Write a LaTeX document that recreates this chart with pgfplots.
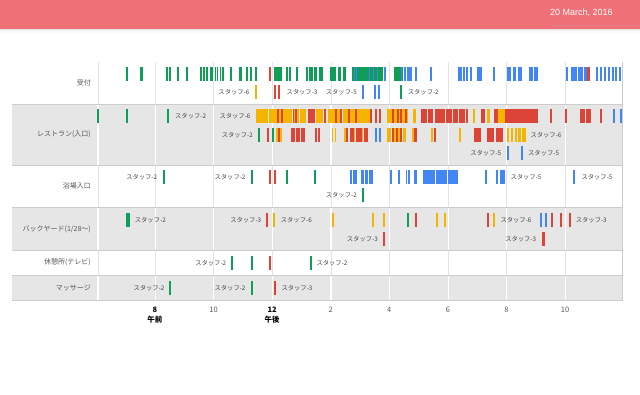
\documentclass[border=0pt]{standalone}
\usepackage{fontspec}
\setmainfont{Noto Sans CJK JP}
\newfontfamily\datefont{Liberation Sans}
\usepackage{pgfplots}
\usepackage{pgfplotstable}
\pgfplotsset{compat=1.18}
\definecolor{hdr}{RGB}{240,112,119}
\definecolor{hdrline}{RGB}{222,130,134}
\definecolor{rowgray}{RGB}{230,230,230}
\definecolor{gridlt}{RGB}{228,228,228}
\definecolor{sepc}{RGB}{204,204,204}
\definecolor{labc}{RGB}{68,68,68}
\definecolor{rowlabc}{RGB}{85,85,85}
\definecolor{tickc}{RGB}{90,90,90}
\definecolor{cG}{HTML}{0F9D58}
\definecolor{cY}{HTML}{F4B400}
\definecolor{cR}{HTML}{DB4437}
\definecolor{cB}{HTML}{4285F4}

% ---------- data: start hour, end hour, lane position ----------
\pgfplotstableread{
s e y
7.00 7.07 73.7
7.488 7.590 73.7
8.39 8.45 73.7
8.47 8.53 73.7
8.765 8.835 73.7
9.05 9.12 73.7
9.535 9.605 73.7
9.64 9.71 73.7
9.73 9.80 73.7
9.878 9.980 73.7
10.038 10.09 73.7
10.11 10.151 73.7
10.209 10.27 73.7
10.29 10.356 73.7
10.575 10.645 73.7
10.868 10.984 73.7
11.10 11.165 73.7
11.235 11.30 73.7
11.43 11.495 73.7
12.052 12.350 73.7
12.475 12.54 73.7
12.565 12.635 73.7
12.815 12.88 73.7
13.17 13.235 73.7
13.25 13.315 73.7
13.34 13.41 73.7
13.44 13.52 73.7
13.59 13.655 73.7
13.67 13.735 73.7
13.988 14.193 73.7
14.248 14.364 73.7
14.418 14.535 73.7
14.739 15.784 73.7
16.149 16.467 73.7
16.355 16.425 92
6.035 6.10 116.3
7.00 7.07 116.3
8.42 8.49 116.3
11.515 11.585 134.7
11.995 12.065 134.7
8.26 8.33 177.3
11.28 11.345 177.3
12.47 12.54 177.3
13.44 13.51 177.3
15.065 15.135 195.3
7.024 7.136 220.3
16.60 16.67 220.3
10.61 10.68 262.8
11.29 11.36 262.8
13.28 13.35 262.8
8.49 8.56 287.7
11.28 11.345 287.7
}\tG

\pgfplotstableread{
s e y
11.43 11.495 92
11.438 11.848 116.3
11.882 12.330 116.3
12.360 12.667 116.3
12.718 12.906 116.3
12.940 13.169 116.3
13.510 13.736 116.3
13.906 14.169 116.3
14.221 14.340 116.3
14.408 14.613 116.3
14.647 14.852 116.3
14.903 15.330 116.3
15.921 16.115 116.3
16.150 16.286 116.3
16.320 16.389 116.3
16.440 16.559 116.3
16.593 16.638 116.3
16.809 16.924 116.3
18.857 18.939 116.3
19.348 19.427 116.3
19.711 19.939 116.3
12.121 12.350 134.7
14.04 14.09 134.7
14.13 14.18 134.7
14.445 14.51 134.7
14.80 14.84 134.7
15.075 15.11 134.7
15.921 16.05 134.7
16.17 16.25 134.7
16.29 16.36 134.7
16.46 16.583 134.7
16.78 16.84 134.7
16.90 16.96 134.7
17.44 17.50 134.7
18.395 18.46 134.7
20.007 20.093 134.7
20.144 20.229 134.7
20.281 20.349 134.7
20.400 20.486 134.7
20.537 20.680 134.7
12.03 12.095 220.3
14.045 14.11 220.3
15.398 15.484 220.3
15.785 15.855 220.3
17.595 17.66 220.3
17.857 17.943 220.3
19.54 19.61 220.3
}\tY

\pgfplotstableread{
s e y
11.88 11.95 73.7
22.763 22.865 73.7
12.075 12.145 92
12.20 12.27 92
12.155 12.22 116.3
12.29 12.36 116.3
12.70 12.76 116.3
12.79 12.85 116.3
13.224 13.452 116.3
13.76 13.83 116.3
14.16 14.23 116.3
14.33 14.40 116.3
14.59 14.66 116.3
14.84 14.91 116.3
15.355 15.42 116.3
15.50 15.57 116.3
15.64 15.705 116.3
16.09 16.16 116.3
16.26 16.33 116.3
16.38 16.445 116.3
16.55 16.615 116.3
17.095 17.29 116.3
17.32 17.491 116.3
17.573 17.891 116.3
17.949 18.13 116.3
18.16 18.35 116.3
18.38 18.574 116.3
18.608 18.686 116.3
19.120 19.256 116.3
19.574 19.711 116.3
19.939 21.076 116.3
21.475 21.545 116.3
21.99 22.055 116.3
22.500 22.670 116.3
22.728 22.875 116.3
23.205 23.275 116.3
11.825 11.89 134.7
12.19 12.255 134.7
12.657 12.770 134.7
12.821 12.940 134.7
12.974 13.111 134.7
13.452 13.53 134.7
13.57 13.647 134.7
14.525 14.595 134.7
14.647 14.784 134.7
14.852 15.057 134.7
15.125 15.272 134.7
16.08 16.15 134.7
16.22 16.29 134.7
16.37 16.44 134.7
16.86 16.93 134.7
17.54 17.61 134.7
18.891 19.120 134.7
19.348 19.574 134.7
19.656 19.881 134.7
11.905 11.975 177.3
12.05 12.12 177.3
11.78 11.85 220.3
16.89 16.96 220.3
19.335 19.405 220.3
21.52 21.59 220.3
21.84 21.91 220.3
22.125 22.19 220.3
15.785 15.855 238.7
21.203 21.305 238.7
11.905 11.975 262.8
12.06 12.13 287.7
}\tR

\pgfplotstableread{
s e y
14.80 14.84 73.7
14.87 14.91 73.7
15.30 15.35 73.7
15.45 15.49 73.7
15.585 15.625 73.7
15.81 15.875 73.7
16.40 16.45 73.7
16.49 16.56 73.7
16.60 16.70 73.7
16.72 16.79 73.7
16.865 16.935 73.7
17.40 17.47 73.7
18.345 18.47 73.7
18.50 18.60 73.7
18.63 18.686 73.7
18.745 18.81 73.7
19.007 19.164 73.7
19.54 19.61 73.7
20.031 20.17 73.7
20.22 20.33 73.7
20.41 20.530 73.7
20.759 20.90 73.7
20.94 21.076 73.7
22.03 22.10 73.7
22.216 22.40 73.7
22.44 22.60 73.7
22.64 22.763 73.7
23.07 23.14 73.7
23.205 23.275 73.7
23.32 23.39 73.7
23.455 23.525 73.7
23.60 23.67 73.7
23.72 23.79 73.7
23.855 23.925 73.7
15.065 15.135 92
15.47 15.55 92
15.60 15.69 92
23.635 23.705 116.3
23.89 23.96 116.3
15.50 15.57 134.7
15.64 15.705 134.7
20.015 20.085 152.7
20.485 20.555 152.7
14.645 14.715 177.3
14.75 14.82 177.3
14.84 14.91 177.3
15.047 15.125 177.3
15.159 15.262 177.3
15.296 15.443 177.3
16.035 16.105 177.3
16.285 16.355 177.3
16.559 16.62 177.3
16.65 16.72 177.3
16.843 16.945 177.3
17.150 17.549 177.3
17.600 17.959 177.3
18.010 18.345 177.3
19.255 19.325 177.3
19.656 19.718 177.3
19.786 19.939 177.3
22.27 22.34 177.3
21.16 21.225 220.3
21.33 21.40 220.3
}\tB

\pgfplotsset{
  tl/.style={draw=none, no markers,
    error bars/.cd, x dir=plus, x explicit, error mark=none,
    error bar style={line width=14pt, draw=#1, solid}},
}
\tikzset{
  lab/.style={font=\fontsize{6.3}{7}\selectfont, text=labc, inner sep=0pt},
}

\begin{document}
\begin{tikzpicture}
\useasboundingbox (0,0) rectangle (640pt,394pt);
\begin{scope}[x=1pt,y=-1pt,shift={(0pt,394pt)}]
  % header
  \fill[hdr] (0,0) rectangle (640,29.3);
  \fill[black,opacity=0.10] (0,29.3) rectangle (640,30.3);
  \fill[black,opacity=0.05] (0,30.3) rectangle (640,31.5);
  \fill[black,opacity=0.02] (0,31.5) rectangle (640,33);
  \draw[hdrline,line width=0.7pt] (551,25.3) -- (640,25.3);
  \node[anchor=west,text=white,inner sep=0pt,font=\datefont\fontsize{9}{10}\selectfont] at (550,12.8) {20 March, 2016};
  % row backgrounds
  \fill[rowgray] (12,104) rectangle (622.7,165);
  \fill[rowgray] (12,207.5) rectangle (622.7,250);
  \fill[rowgray] (12,275) rectangle (622.7,300);
  % grid lines
  \foreach \gx in {98,155.3,213.9,272.5,331,389.6,448.2,506.8,565.4}{
    \draw[gridlt,line width=0.9pt] (\gx,62) -- (\gx,300);
    \draw[white,line width=1.1pt] (\gx,104) -- (\gx,165);
    \draw[white,line width=1.1pt] (\gx,207.5) -- (\gx,250);
    \draw[white,line width=1.1pt] (\gx,275) -- (\gx,300);
  }
  % separators
  \foreach \sy in {104,165,207.5,250,275,300}{
    \draw[sepc,line width=0.8pt] (12,\sy) -- (622.7,\sy);
  }
  \draw[sepc,line width=0.8pt] (622.7,62) -- (622.7,300);
  % row labels
  \begin{scope}[every node/.style={anchor=east,inner sep=0pt,text=rowlabc,font=\fontsize{7}{8}\selectfont}]
    \node at (91,83) {受付};
    \node at (91,134) {レストラン(入口)};
    \node at (91,186) {浴場入口};
    \node at (91,229) {バックヤード(1/28～)};
    \node at (91,262.5) {休憩所(テレビ)};
    \node at (91,287.5) {マッサージ};
  \end{scope}
\end{scope}

\begin{axis}[
  at={(96.4pt,94pt)}, anchor=south west,
  scale only axis, width=527.2pt, height=238pt,
  xmin=6, xmax=24, ymin=62, ymax=300, y dir=reverse,
  axis line style={draw=none},
  ytick=\empty,
  xtick={8,10,12,14,16,18,20,22},
  xticklabels={{\textcolor{black}{\textbf{8}}\\\textcolor{black}{\textbf{午前}}},10,{\textcolor{black}{\textbf{12}}\\\textcolor{black}{\textbf{午後}}},2,4,6,8,10},
  xticklabel style={font=\fontsize{7.5}{10.5}\selectfont, text=tickc, align=center, anchor=north, inner sep=0pt, yshift=-6.5pt},
  major tick length=0pt,
  clip=false,
]
\addplot[tl=cY] table[x=s, y=y, x error expr=\thisrow{e}-\thisrow{s}] {\tY};
\addplot[tl=cG] table[x=s, y=y, x error expr=\thisrow{e}-\thisrow{s}] {\tG};
\addplot[tl=cR] table[x=s, y=y, x error expr=\thisrow{e}-\thisrow{s}] {\tR};
\addplot[tl=cB] table[x=s, y=y, x error expr=\thisrow{e}-\thisrow{s}] {\tB};

% annotations
\node[lab,anchor=east] at (axis cs:11.23,92) {スタッフ-6};
\node[lab,anchor=west] at (axis cs:12.486,92) {スタッフ-3};
\node[lab,anchor=east] at (axis cs:14.896,92) {スタッフ-5};
\node[lab,anchor=west] at (axis cs:16.627,92) {スタッフ-2};
\node[lab,anchor=west] at (axis cs:8.683,116.3) {スタッフ-2};
\node[lab,anchor=east] at (axis cs:11.267,116.3) {スタッフ-6};
\node[lab,anchor=east] at (axis cs:11.346,134.7) {スタッフ-2};
\node[lab,anchor=west] at (axis cs:20.817,134.7) {スタッフ-6};
\node[lab,anchor=east] at (axis cs:19.826,152.7) {スタッフ-5};
\node[lab,anchor=west] at (axis cs:20.735,152.7) {スタッフ-5};
\node[lab,anchor=east] at (axis cs:8.082,177.3) {スタッフ-2};
\node[lab,anchor=east] at (axis cs:11.097,177.3) {スタッフ-2};
\node[lab,anchor=west] at (axis cs:20.134,177.3) {スタッフ-5};
\node[lab,anchor=west] at (axis cs:22.558,177.3) {スタッフ-5};
\node[lab,anchor=east] at (axis cs:14.896,195.3) {スタッフ-2};
\node[lab,anchor=west] at (axis cs:7.307,220.3) {スタッフ-2};
\node[lab,anchor=east] at (axis cs:11.633,220.3) {スタッフ-3};
\node[lab,anchor=west] at (axis cs:12.292,220.3) {スタッフ-6};
\node[lab,anchor=west] at (axis cs:19.792,220.3) {スタッフ-6};
\node[lab,anchor=west] at (axis cs:22.363,220.3) {スタッフ-3};
\node[lab,anchor=east] at (axis cs:15.614,238.7) {スタッフ-3};
\node[lab,anchor=east] at (axis cs:21.021,238.7) {スタッフ-3};
\node[lab,anchor=east] at (axis cs:10.438,262.8) {スタッフ-2};
\node[lab,anchor=west] at (axis cs:13.510,262.8) {スタッフ-2};
\node[lab,anchor=east] at (axis cs:8.331,287.7) {スタッフ-2};
\node[lab,anchor=east] at (axis cs:11.097,287.7) {スタッフ-2};
\node[lab,anchor=west] at (axis cs:12.315,287.7) {スタッフ-3};
\end{axis}
\end{tikzpicture}
\end{document}
